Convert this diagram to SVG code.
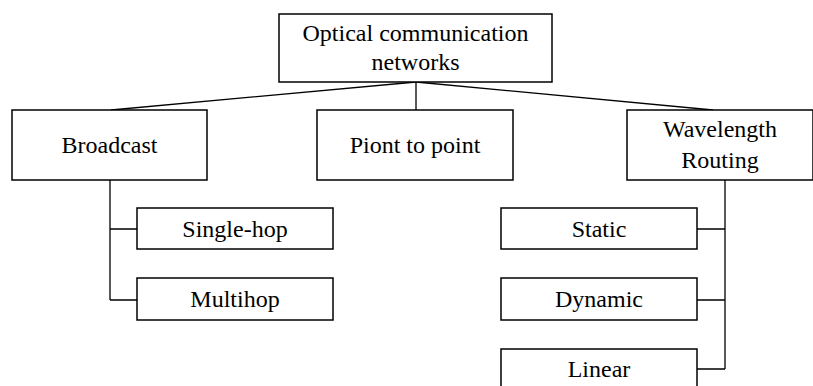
<svg xmlns="http://www.w3.org/2000/svg" width="813" height="386" viewBox="0 0 813 386">
<style>
.box{fill:#fff;stroke:#000;stroke-width:1.5}
.c{fill:none;stroke:#000;stroke-width:1.3}
</style>
<rect width="813" height="386" fill="#fff"/>
<g id="connectors">
<path class="c" d="M416,82 L111,110 M416,82 L416,110 M416,82 L713,110"/>
<path class="c" d="M110,180 V300 M110,229 H137 M110,300 H137"/>
<path class="c" d="M725,180 V369 M697,229 H725 M697,300 H725 M697,369 H725"/>
</g>
<g font-family="Liberation Serif, Times New Roman, DejaVu Serif, serif" font-size="24" fill="#000" text-anchor="middle">
<g id="root"><rect class="box" x="279" y="14" width="273" height="68"/><text x="415.5" y="41">Optical communication</text><text x="415.5" y="70">networks</text></g>
<g id="broadcast"><rect class="box" x="12" y="110" width="195" height="70"/><text x="109.5" y="153">Broadcast</text></g>
<g id="p2p"><rect class="box" x="317" y="110" width="196" height="70"/><text x="415" y="153">Piont to point</text></g>
<g id="wr"><rect class="box" x="627" y="110" width="186" height="70"/><text x="720" y="137">Wavelength</text><text x="720" y="168">Routing</text></g>
<g id="singlehop"><rect class="box" x="137" y="208" width="196" height="41"/><text x="235" y="237">Single-hop</text></g>
<g id="multihop"><rect class="box" x="137" y="278" width="196" height="42"/><text x="235" y="307">Multihop</text></g>
<g id="static"><rect class="box" x="501" y="208" width="196" height="41"/><text x="599" y="237">Static</text></g>
<g id="dynamic"><rect class="box" x="501" y="278" width="196" height="42"/><text x="599" y="307">Dynamic</text></g>
<g id="linear"><rect class="box" x="501" y="349" width="196" height="45"/><text x="599" y="377">Linear</text></g>
</g>
</svg>
